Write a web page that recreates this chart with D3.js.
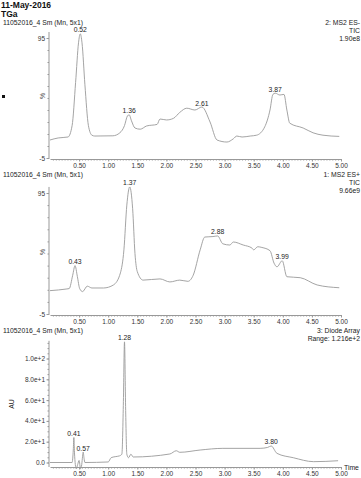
<!DOCTYPE html>
<html>
<head>
<meta charset="utf-8">
<script src="https://cdn.jsdelivr.net/npm/d3@7"></script>
<style>
  body { margin: 0; background: #fff; }
  svg { font-family: "Liberation Sans", Arial, sans-serif; }
  .tick text { fill: #333; font-size: 6.5px; }
  .tick line { stroke: #999; }
  .domain { stroke: #999; }
  .lbl { fill: #222; font-size: 6.8px; }
</style>
</head>
<body>
<div id="chart"></div>
<script>
// time axis (minutes)
const timeTicks = [0.5, 1.0, 1.5, 2.0, 2.5, 3.0, 3.5, 4.0, 4.5, 5.0];

// 2: MS2 ES- TIC (%)
const esNegTime = [0, 0.14, 0.31, 0.38, 0.44, 0.49, 0.52, 0.55, 0.60, 0.66, 0.72, 0.77, 1.08, 1.20, 1.28, 1.33, 1.36, 1.40, 1.46, 1.55, 1.66, 1.84, 1.89, 2.0, 2.12, 2.23, 2.35, 2.49, 2.61, 2.75, 2.87, 3.04, 3.15, 3.21, 3.30, 3.44, 3.55, 3.69, 3.78, 3.83, 3.87, 3.95, 4.02, 4.07, 4.12, 4.35, 4.52, 4.69, 4.97];
const esNegVal = [10, 11.7, 12.5, 22, 58, 91, 98.5, 91, 56, 22, 14, 13.3, 13.5, 16, 22, 30, 31, 26, 20, 19, 21.7, 23, 27.5, 26.7, 28, 33, 36.5, 35, 37.5, 25, 10, 8.3, 11, 13.3, 12.5, 13.3, 14, 21, 35, 48, 49, 47.5, 48, 35, 24, 20, 16, 14, 13];
const esNegPeaks = [0.52, 1.36, 2.61, 3.87];

// 1: MS2 ES+ TIC (%)
const esPosTime = [0, 0.29, 0.33, 0.39, 0.43, 0.47, 0.51, 0.56, 0.64, 0.72, 0.92, 1.09, 1.21, 1.27, 1.32, 1.37, 1.42, 1.46, 1.50, 1.6, 1.89, 2.06, 2.23, 2.37, 2.46, 2.58, 2.66, 2.80, 2.88, 2.97, 3.09, 3.15, 3.32, 3.47, 3.50, 3.57, 3.64, 3.78, 3.85, 3.90, 3.99, 4.07, 4.30, 4.59, 4.97];
const esPosVal = [14.3, 15.7, 16, 27, 35, 26, 16, 13.5, 18, 16.5, 16.5, 19, 29, 48, 85, 100, 82, 45, 30, 23, 24, 21.5, 23, 22, 27, 48, 58.6, 59, 59.5, 53, 52, 54.5, 52, 49.5, 48, 50.6, 50, 47.3, 37, 34, 39, 25.8, 25, 19, 16.7];
const esPosPeaks = [0.43, 1.37, 2.88, 3.99];

// 3: Diode Array (AU)
const daTime = [0, 0.38, 0.40, 0.41, 0.42, 0.435, 0.45, 0.475, 0.50, 0.525, 0.545, 0.56, 0.57, 0.585, 0.60, 1.0, 1.05, 1.12, 1.19, 1.235, 1.26, 1.28, 1.30, 1.32, 1.35, 1.39, 1.43, 2.06, 2.17, 2.23, 2.58, 2.97, 3.61, 3.74, 3.80, 3.9, 4.18, 4.53, 4.95];
const daVal = [0, 0, 12, 24, 10, -2, -6, -2, 2, -6, -2, 6, 10, 4, 0, 0.5, 4.6, 5.6, 6.3, 8, 55, 116, 50, 8, 4.6, 8, 5.3, 8.2, 11.3, 9.8, 12, 13.6, 13.6, 14.5, 15.9, 8.8, 4.6, 0.8, 1.7];
const daPeaks = [0.41, 0.57, 1.28, 3.80];
const daTicks = [0, 20, 40, 60, 80, 100];
const daTickLabels = ["0.0", "2.0e+1", "4.0e+1", "6.0e+1", "8.0e+1", "1.0e+2"];

const W = 361, H = 478;
const svg = d3.select('#chart').append('svg')
  .attr('width', W).attr('height', H);

const x = d3.scaleLinear().domain([0, 5]).range([50, 341]);

// header
svg.append('text').attr('x', 1).attr('y', 8).attr('font-size', '8.5px')
  .attr('font-weight', 'bold').attr('fill', '#111').text('11-May-2016');
svg.append('text').attr('x', 1).attr('y', 16.5).attr('font-size', '8.5px')
  .attr('font-weight', 'bold').attr('fill', '#111').text('TGa');
svg.append('rect').attr('x', 2).attr('y', 95).attr('width', 3).attr('height', 3).attr('fill', '#111');

function panel(cfg) {
  const g = svg.append('g');
  const y = d3.scaleLinear().domain(cfg.domain).range(cfg.range);

  // title lines
  g.append('text').attr('class', 'lbl').attr('x', 3).attr('y', cfg.titleY)
    .text('11052016_4 Sm (Mn, 5x1)');
  cfg.right.forEach((t, i) => {
    g.append('text').attr('class', 'lbl').attr('x', 360).attr('y', cfg.titleY + i * 8)
      .attr('text-anchor', 'end').text(t);
  });

  // x axis
  g.append('g')
    .attr('transform', `translate(0,${cfg.axisY})`)
    .call(d3.axisBottom(x).tickValues(d3.range(0.05, 5.001, 0.05)).tickSize(1.5).tickFormat('').tickSizeOuter(0));
  g.append('g')
    .attr('transform', `translate(0,${cfg.axisY})`)
    .call(d3.axisBottom(x).tickValues(timeTicks).tickSize(2.5).tickPadding(2)
      .tickFormat(d3.format('.2f')).tickSizeOuter(0))
    .call(a => a.select('.domain').remove());

  // y axis line + ticks
  g.append('line').attr('x1', 49).attr('x2', 49)
    .attr('y1', y(cfg.axisTop)).attr('y2', cfg.axisY).attr('stroke', '#999');
  g.append('g').attr('transform', 'translate(49,0)')
    .call(d3.axisLeft(y).tickValues(cfg.minor).tickSize(1.5).tickFormat(''))
    .call(a => a.select('.domain').remove());
  g.append('g').attr('transform', 'translate(49,0)')
    .call(d3.axisLeft(y).tickValues(cfg.ticks).tickSize(2.5).tickPadding(1.5)
      .tickFormat((d, i) => cfg.tickLabels[i]))
    .call(a => a.select('.domain').remove());

  // y label
  g.append('text').attr('class', 'lbl')
    .attr('transform', `translate(${cfg.yLabelX},${cfg.yLabelY}) rotate(-90)`)
    .attr('text-anchor', 'middle').text(cfg.yLabel);

  // trace
  const pts = cfg.time.map((t, i) => [t, cfg.val[i]]);
  const line = d3.line().x(d => x(d[0])).y(d => y(d[1])).curve(d3.curveMonotoneX);
  g.append('path').datum(pts).attr('d', line)
    .attr('fill', 'none').attr('stroke', '#9a9a9a').attr('stroke-width', 0.9);

  // peak labels
  cfg.peaks.forEach(p => {
    const i = cfg.time.indexOf(p);
    g.append('text').attr('class', 'lbl').attr('font-size', '6.5px')
      .attr('x', x(p)).attr('y', y(cfg.val[i]) - 1.5)
      .attr('text-anchor', 'middle').text(p.toFixed(2));
  });
  return g;
}

panel({
  domain: [-5, 95], range: [158, 38], axisY: 159, axisTop: 100,
  ticks: [-5, 95], tickLabels: ['-5', '95'], minor: d3.range(-5, 96, 10),
  titleY: 24.5, right: ['2: MS2 ES-', 'TIC', '1.90e8'],
  yLabel: '%', yLabelX: 45, yLabelY: 96,
  time: esNegTime, val: esNegVal, peaks: esNegPeaks
});

panel({
  domain: [-5, 95], range: [314, 193], axisY: 315, axisTop: 100,
  ticks: [-5, 95], tickLabels: ['-5', '95'], minor: d3.range(-5, 96, 10),
  titleY: 177, right: ['1: MS2 ES+', 'TIC', '9.66e9'],
  yLabel: '%', yLabelX: 45, yLabelY: 252,
  time: esPosTime, val: esPosVal, peaks: esPosPeaks
});

panel({
  domain: [0, 100], range: [462.5, 358.5], axisY: 467, axisTop: 117,
  ticks: daTicks, tickLabels: daTickLabels, minor: d3.range(0, 116, 5),
  titleY: 333, right: ['3: Diode Array', 'Range: 1.216e+2'],
  yLabel: 'AU', yLabelX: 14, yLabelY: 404,
  time: daTime, val: daVal, peaks: daPeaks
});

svg.append('text').attr('class', 'lbl').attr('x', 344).attr('y', 470).text('Time');
</script>
</body>
</html>
